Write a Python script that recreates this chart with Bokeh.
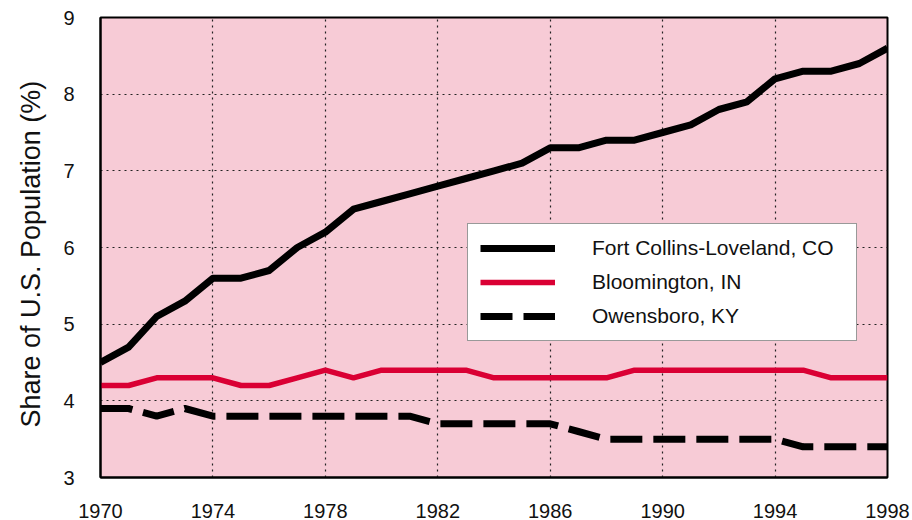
from bokeh.plotting import figure
from bokeh.models import Legend, LegendItem, FixedTicker, Range1d, Title
from bokeh.embed import file_html
from bokeh.resources import INLINE

# ---- data ----
years = list(range(1970, 1999))
fort_collins = [4.5, 4.7, 5.1, 5.3, 5.6, 5.6, 5.7, 6.0, 6.2, 6.5, 6.6, 6.7, 6.8, 6.9, 7.0,
                7.1, 7.3, 7.3, 7.4, 7.4, 7.5, 7.6, 7.8, 7.9, 8.2, 8.3, 8.3, 8.4, 8.6]
bloomington = [4.2, 4.2, 4.3, 4.3, 4.3, 4.2, 4.2, 4.3, 4.4, 4.3, 4.4, 4.4, 4.4, 4.4, 4.3,
               4.3, 4.3, 4.3, 4.3, 4.4, 4.4, 4.4, 4.4, 4.4, 4.4, 4.4, 4.3, 4.3, 4.3]
owensboro = [3.9, 3.9, 3.8, 3.9, 3.8, 3.8, 3.8, 3.8, 3.8, 3.8, 3.8, 3.8, 3.7, 3.7, 3.7,
             3.7, 3.7, 3.6, 3.5, 3.5, 3.5, 3.5, 3.5, 3.5, 3.5, 3.4, 3.4, 3.4, 3.4]
series_names = ["Fort Collins-Loveland, CO", "Bloomington, IN", "Owensboro, KY"]
x_ticks = [1970, 1974, 1978, 1982, 1986, 1990, 1994, 1998]
y_ticks = [3, 4, 5, 6, 7, 8, 9]
y_title = "Share of U.S. Population (%)"

FONT = "Liberation Sans"
PINK = "#F7CBD6"
RED = "#DA0034"

p = figure(width=912, height=520, output_backend="svg", toolbar_location=None,
           x_range=Range1d(1970, 1998), y_range=Range1d(3, 9),
           min_border_left=100, min_border_top=17, min_border_right=25, min_border_bottom=42)

p.background_fill_color = PINK
p.border_fill_color = "white"
p.outline_line_color = "black"
p.outline_line_width = 2

# grid
for g in (p.xgrid, p.ygrid):
    g.grid_line_color = "#222222"
    g.grid_line_dash = "2 4"
    g.grid_line_width = 1.2
p.xgrid.ticker = FixedTicker(ticks=x_ticks)
p.ygrid.ticker = FixedTicker(ticks=y_ticks)

# axes
p.xaxis.ticker = FixedTicker(ticks=x_ticks)
p.yaxis.ticker = FixedTicker(ticks=y_ticks)
for ax in (p.xaxis[0], p.yaxis[0]):
    ax.major_tick_line_color = None
    ax.minor_tick_line_color = None
    ax.axis_line_color = "black"
    ax.axis_line_width = 2
    ax.major_label_text_font = FONT
    ax.major_label_text_font_size = "20px"
    ax.major_label_text_color = "#111111"
p.xaxis.major_label_standoff = 20
p.yaxis.major_label_standoff = 20

# y-axis title (a left-side title so it can sit lower, like the reference)
ytitle = Title(text=y_title, align="left", offset=50, standoff=26, vertical_align="top",
               text_font=FONT, text_font_size="27px", text_font_style="normal",
               text_color="#111111")
p.add_layout(ytitle, "left")

# lines
r_red = p.line(years, bloomington, line_color=RED, line_width=5.5)
r_dash = p.line(years, owensboro, line_color="black", line_width=7,
                line_dash="32 11", line_cap="butt")
r_black = p.line(years, fort_collins, line_color="black", line_width=7, line_join="round")

legend = Legend(items=[LegendItem(label=series_names[0], renderers=[r_black]),
                       LegendItem(label=series_names[1], renderers=[r_red]),
                       LegendItem(label=series_names[2], renderers=[r_dash])],
                location=(367, 136))
legend.label_text_font = FONT
legend.label_text_font_size = "21px"
legend.label_text_color = "#111111"
legend.glyph_width = 75
legend.glyph_height = 24
legend.label_height = 24
legend.label_standoff = 37
legend.label_width = 252
legend.spacing = 10
legend.padding = 12
legend.margin = 0
legend.border_line_color = "#333333"
legend.border_line_width = 1.5
legend.background_fill_color = "white"
legend.background_fill_alpha = 1
p.add_layout(legend, "center")

open("out.html", "w").write(file_html(p, INLINE))
